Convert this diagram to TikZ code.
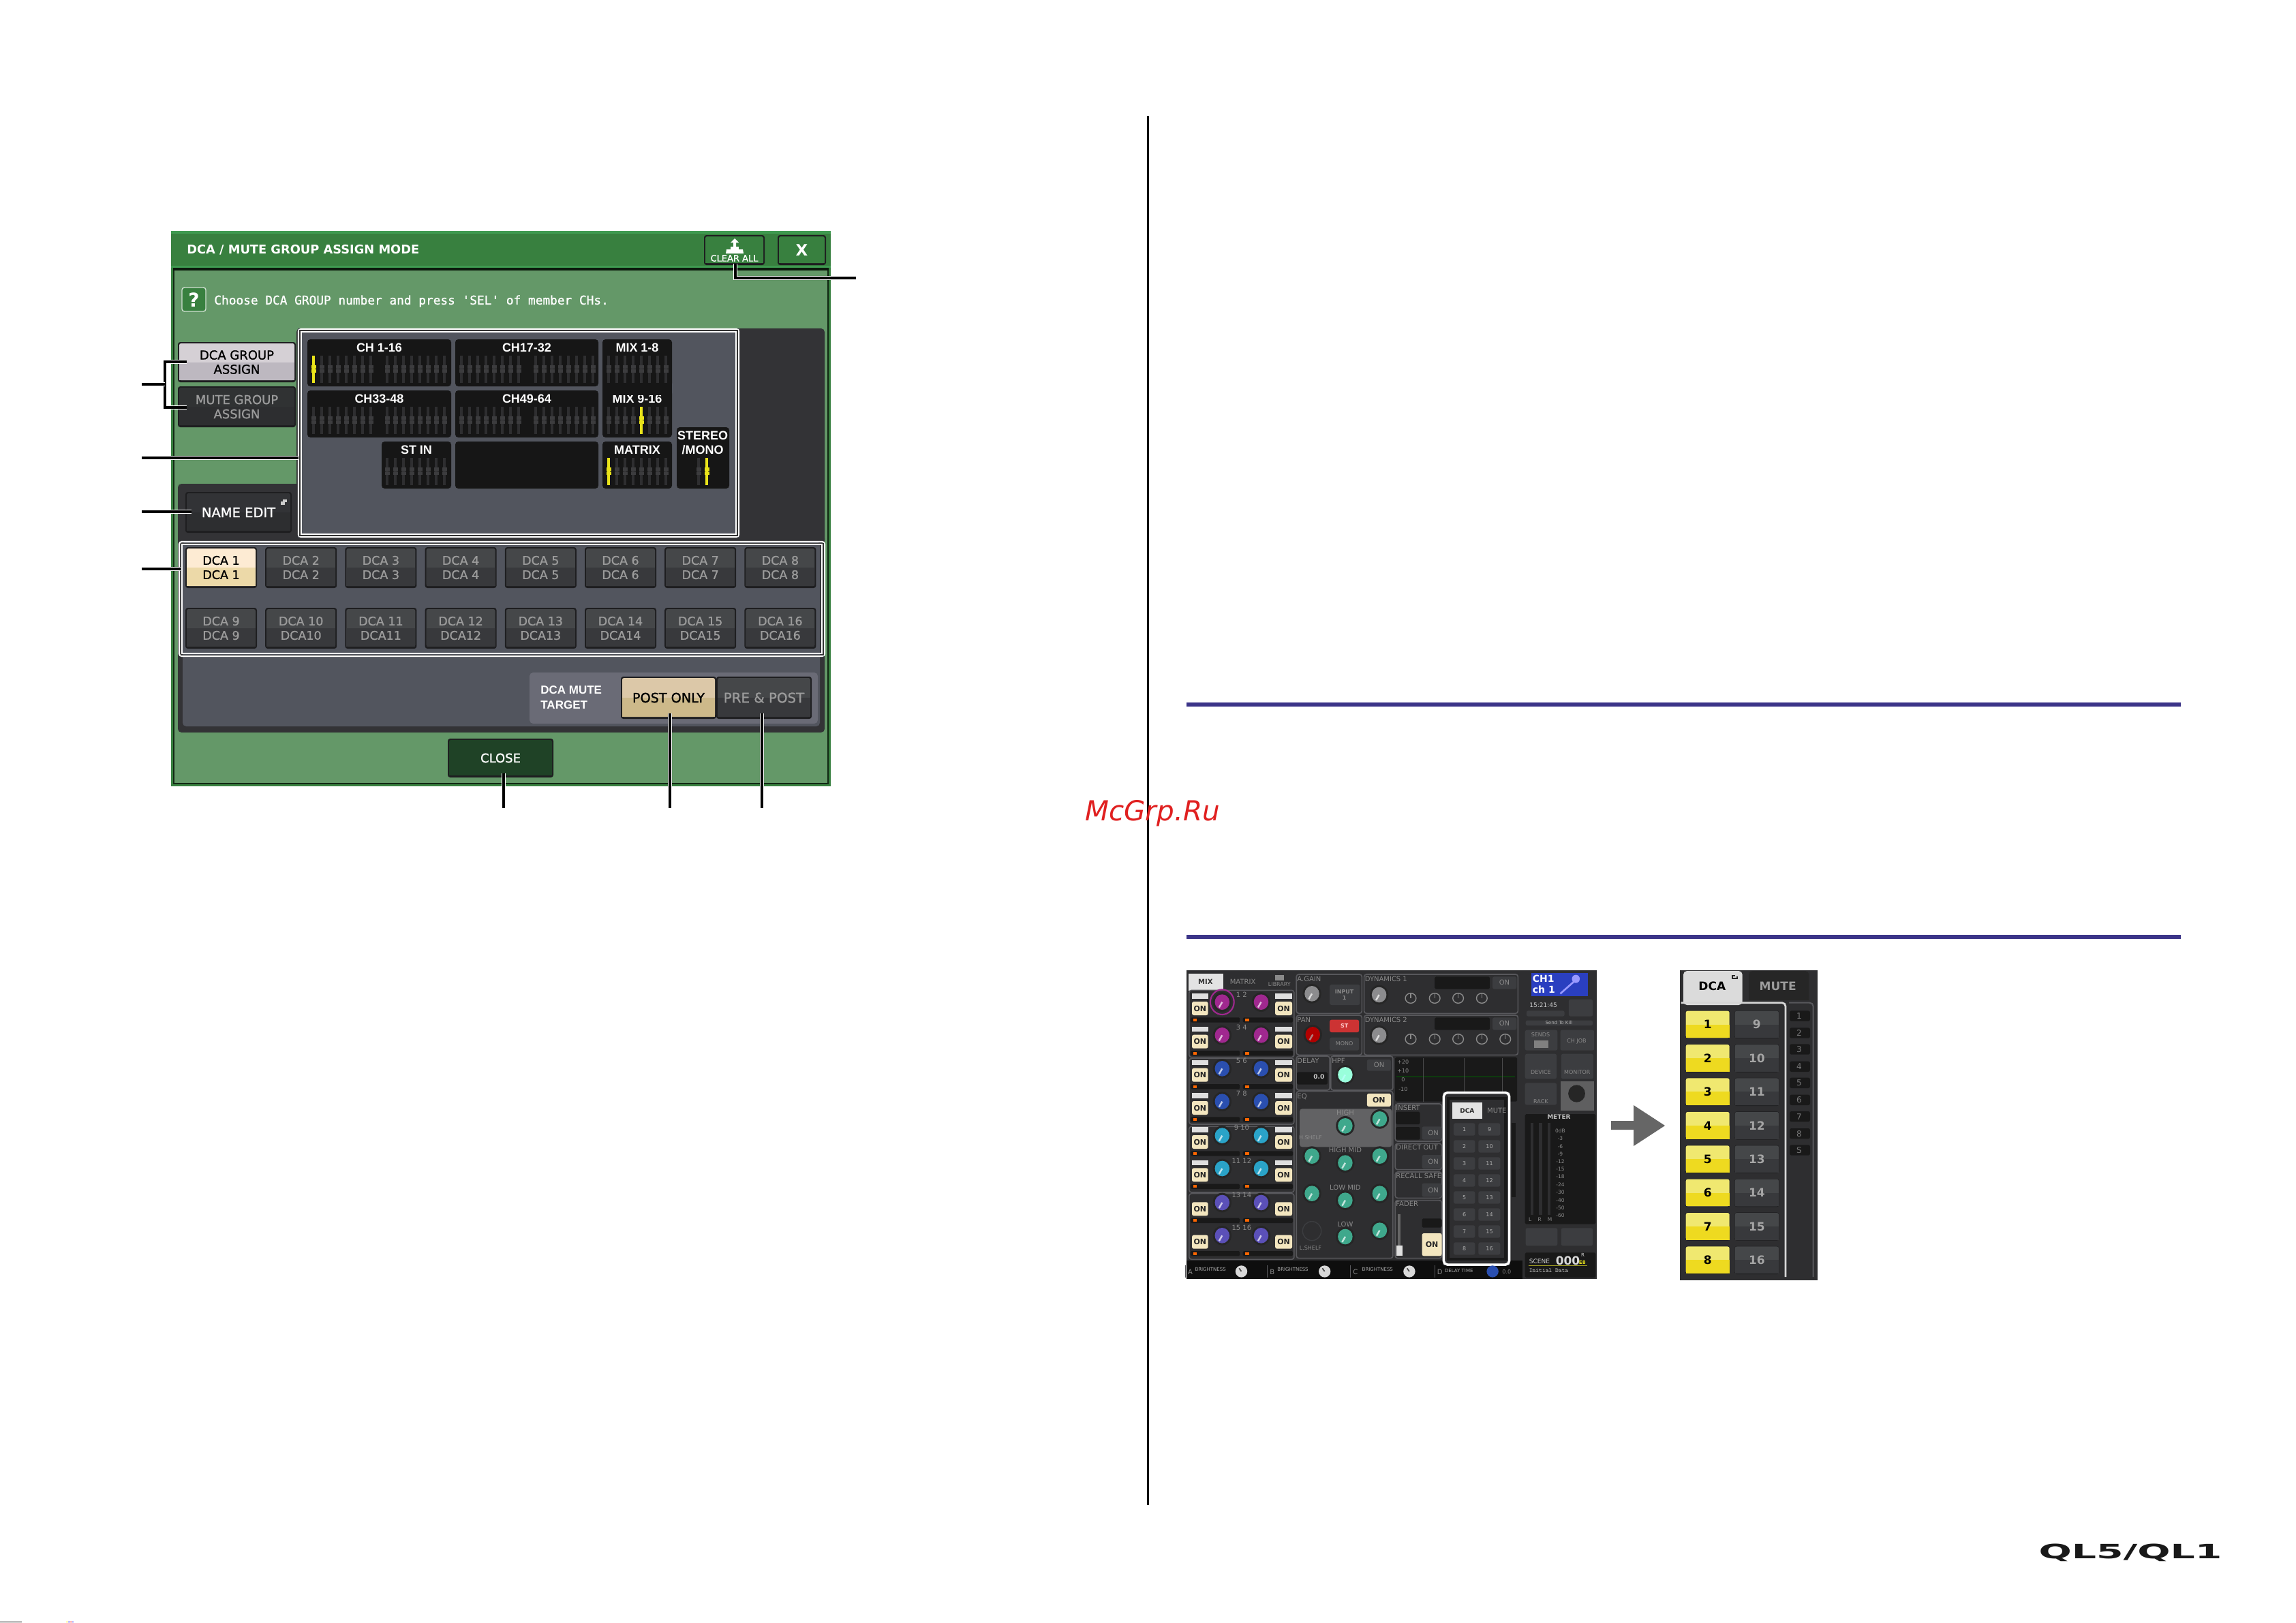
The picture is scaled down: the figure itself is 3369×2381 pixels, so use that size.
\documentclass[tikz,border=0pt]{standalone}
\usepackage{fontspec}
\setmainfont{DejaVu Sans}
\newfontfamily\uif[FakeBold=1.2]{DejaVu Sans}
\newfontfamily\libf{Liberation Sans}
\newfontfamily\monof[FakeBold=1.0]{DejaVu Sans Mono}
\usetikzlibrary{calc}
\definecolor{dlgbody}{HTML}{649868}
\definecolor{dlgtitle}{HTML}{38803F}
\definecolor{dlgstripe}{HTML}{3F9A50}
\definecolor{paneldark}{HTML}{333336}
\definecolor{panelmid}{HTML}{52555E}
\definecolor{paneltgt}{HTML}{6A6B76}
\definecolor{tilebk}{HTML}{161616}
\definecolor{btnedge}{HTML}{1E1E20}
\definecolor{btntop}{HTML}{454749}
\definecolor{btnbot}{HTML}{38393C}
\definecolor{dimtxt}{HTML}{9B9B9B}
\definecolor{onbtn}{HTML}{F3E6BF}
\definecolor{strip}{HTML}{2E2E30}
\definecolor{stripk}{HTML}{3C3C3E}
\definecolor{faderyl}{HTML}{E9E31A}
\definecolor{ssbg}{HTML}{2E2E30}
\definecolor{ssline}{HTML}{58585C}
\definecolor{sstile}{HTML}{3C3D40}
\definecolor{sstxt}{HTML}{8A8A8A}
\definecolor{rulebl}{HTML}{3B3488}
\definecolor{wmred}{HTML}{E02020}
\definecolor{arrowgr}{HTML}{666666}
\definecolor{ylwtop}{HTML}{F0E870}
\definecolor{ylwbot}{HTML}{EEDA20}
\definecolor{magk}{HTML}{A0288F}
\definecolor{bluk}{HTML}{2A4FB0}
\definecolor{cyak}{HTML}{2AA3C8}
\definecolor{purk}{HTML}{5B50B8}
\definecolor{teak}{HTML}{3FA88C}
\definecolor{grak}{HTML}{8C8C8E}
\definecolor{selgrtop}{HTML}{D5D0D5}
\definecolor{selgrbot}{HTML}{BDB8C0}
\definecolor{dcaontop}{HTML}{FDEBD3}
\definecolor{dcaonbot}{HTML}{ECD9A8}
\definecolor{posttop}{HTML}{DCC8A8}
\definecolor{postbot}{HTML}{CDB98A}
\definecolor{closebg}{HTML}{1F4226}
\definecolor{chblue}{HTML}{2A3FC0}
\newcommand\fz[2]{\fontsize{\fpeval{#1*0.569}}{\fpeval{#2*0.569}}\selectfont}
\newcounter{tn}
\newcommand\lb[4][]{\stepcounter{tn}\node[inner sep=0pt,#1] (t\arabic{tn}) at (#2,#3) {#4};}
\newcommand\uibtn[9]{%
 \pgfmathsetmacro\xa{#2+2}\pgfmathsetmacro\xb{#4-2}
 \pgfmathsetmacro\ya{#3+2}\pgfmathsetmacro\yb{#5-3}
 \pgfmathsetmacro\ym{(#3+#5)/2}\pgfmathsetmacro\xc{(#2+#4)/2}
 \fill[btnedge,rounded corners=2pt] (#2,#3) rectangle (#4,#5);
 \fill[#6,rounded corners=1.5pt] (\xa,\ya) rectangle (\xb,\yb);
 \fill[#7] (\xa,\ym) rectangle (\xb,\yb);
 \node[inner sep=0pt,align=center,#8] (#1) at (\xc,\ym) {#9};
}
\newcommand\strips[4]{\foreach \i in {1,...,#3}{%
  \pgfmathsetmacro\sx{#1+(\i-1)*12}
  \pgfmathsetmacro\sa{#2+24}\pgfmathsetmacro\sb{#2+64}
  \pgfmathsetmacro\ka{#2+38}\pgfmathsetmacro\kb{#2+42.5}
  \pgfmathsetmacro\kc{#2+44}\pgfmathsetmacro\kd{#2+48.5}
  \pgfmathsetmacro\kl{\sx-3.5}\pgfmathsetmacro\kr{\sx+3.5}
  \ifnum\i=#4\def\scl{faderyl}\def\skl{faderyl}\else\def\scl{strip}\def\skl{stripk}\fi
  \draw[\scl,line width=1.8pt] (\sx,\sa) -- (\sx,\sb);
  \fill[\skl] (\kl,\ka) rectangle (\kr,\kb);
  \fill[\skl] (\kl,\kc) rectangle (\kr,\kd);
}}
\newcommand\knob[3]{%
 \fill[black!85] (#1,#2) ellipse [x radius=33,y radius=43];
 \fill[#3] (#1,#2) ellipse [x radius=26,y radius=34];
 \draw[white!70!#3,line width=1.4pt] (#1,#2) -- ++(-11,24);
}
\newcommand\sknob[2]{\draw[sstxt,line width=.8pt] (#1,#2) ellipse [x radius=19,y radius=22]; \draw[sstxt,line width=.8pt] (#1,#2) -- ++(0,-20);}
\newcommand\ssbox[4]{\draw[ssline,line width=.9pt,rounded corners=2pt] (#1,#2) rectangle (#3,#4);}
\newcommand\sstile[4]{\fill[sstile,rounded corners=1.5pt] (#1,#2) rectangle (#3,#4);}
\newcommand\ssblack[4]{\fill[black!90,rounded corners=1pt] (#1,#2) rectangle (#3,#4);}
\newcommand\sson[4]{\fill[onbtn,rounded corners=1.5pt] (#1,#2) rectangle (#3,#4); \pgfmathsetmacro\xc{(#1+#3)/2}\pgfmathsetmacro\yc{(#2+#4)/2}\lb{\xc}{\yc}{\color{black!85}\bfseries\fz{11}{11}ON}}
\tikzset{
 leader/.style={black,line width=1.8pt,preaction={draw=white,line width=3pt}},
 tiletxt/.style={text=white,font=\libf\bfseries\fz{18}{19},align=center},
 uibright/.style={text=white,font=\uif\fz{19.5}{21}},
 uidim/.style={text=dimtxt,font=\uif\fz{17.5}{21}},
 uiblack/.style={text=black,font=\uif\fz{17.5}{21}},
 sslab/.style={text=sstxt,font=\fz{10}{11}},
 sslabsm/.style={text=sstxt!70,font=\fz{7}{8}},
}
\begin{document}
\begin{tikzpicture}[x=0.02cm,y=-0.02cm]
\useasboundingbox (0,0) rectangle (3369,2381);
\fill[white] (0,0) rectangle (3369,2381);
% page furniture
\draw[black,line width=1.7pt] (1684,170) -- (1684,2209);
\fill[rulebl] (1741,1031) rectangle (3200,1037);
\fill[rulebl] (1741,1372) rectangle (3200,1378);
\fill[black] (0,2380) rectangle (32,2381);
\fill[yellow] (97,2380) rectangle (100,2381);
\fill[blue] (100,2380) rectangle (103,2381);
\fill[red] (103,2380) rectangle (106,2381);
\fill[blue] (106,2380) rectangle (108,2381);
% ===== dialog =====
\fill[dlgtitle] (251,339) rectangle (1219,1154);
\fill[dlgbody] (254,396) rectangle (1216,1150);
\draw[black!70!dlgtitle,line width=.8pt] (255,396) -- (255,1150) -- (1215,1150) -- (1215,396);
\fill[dlgstripe] (251,339) rectangle (1219,343);
\fill[dlgstripe] (251,390) rectangle (1219,393);
\fill[black!80!dlgtitle] (254,393) rectangle (1216,397);
\lb[anchor=west,text=white,font=\bfseries\fz{17.8}{18}]{274}{367}{DCA / MUTE GROUP ASSIGN MODE}
\uibtn{clearall}{1033}{345}{1122}{389}{dlgtitle}{dlgtitle}{text=white,font=\uif\fz{13}{13},yshift=-6.8pt}{CLEAR ALL}
\fill[white] (1078,350) -- (1084,356) -- (1080,356) -- (1080,362) -- (1076,362) -- (1076,356) -- (1072,356) -- cycle;
\fill[white] (1072,362) rectangle (1084,366);
\fill[white] (1066,366) -- (1090,366) -- (1091,372) -- (1065,372) -- cycle;
\uibtn{closex}{1141}{345}{1212}{389}{dlgtitle}{dlgtitle}{text=white,font=\bfseries\fz{23}{23}}{X}
\draw[white!70!dlgbody,fill=dlgtitle,line width=.8pt,rounded corners=2pt] (267,422) rectangle (302,457);
\lb[text=white,font=\bfseries\fz{28}{28}]{284.5}{440}{?}
\lb[anchor=west,text=white,font=\monof\fz{17.8}{18}]{314}{442}{Choose DCA GROUP number and press 'SEL' of member CHs.}
% panels
\fill[paneldark,rounded corners=3pt] (435,482) rectangle (1210,810);
\fill[paneldark,rounded corners=3pt] (261,710) rectangle (440,810);
\fill[paneldark,rounded corners=3pt] (261,785) rectangle (1210,1075);
\fill[panelmid,rounded corners=3pt] (268,795) rectangle (1203,1066);
% channel selection box
\fill[panelmid] (437,482) rectangle (1085,789);
\draw[white,line width=1.2pt,rounded corners=2pt] (438,483) rectangle (1084,788);
\draw[white,line width=1.2pt] (442,487) rectangle (1080,784);
\draw[black!80,line width=.6pt] (440,485) rectangle (1082,786);
% group assign buttons
\uibtn{dcagroup}{261}{502}{434}{561}{selgrtop}{selgrbot}{text=black,font=\uif\fz{18}{21}}{DCA GROUP\\ASSIGN}
\uibtn{mutegroup}{261}{567}{434}{627}{btntop!70!black}{btnbot!80!black}{text=dimtxt,font=\uif\fz{18}{21}}{MUTE GROUP\\ASSIGN}
\uibtn{nameedit}{272}{722}{428}{782}{btnbot!90!black}{btnbot!80!black}{uibright}{NAME EDIT}
\fill[white!80!black] (415,733) rectangle (421,737); \fill[white!80!black] (412,736) rectangle (418,741);
% tiles
\foreach \tn/\xa/\ya/\xb/\yb/\txt in {ta/451/498/662/567/CH 1-16,tb/668/498/878/567/CH17-32,tc/884/498/986/567/MIX 1-8,td/451/573/662/642/CH33-48,te/668/573/878/642/CH49-64,tf/884/573/986/642/MIX 9-16,tg/560/648/662/717/ST IN,ti/884/648/986/717/MATRIX}{
 \fill[tilebk,rounded corners=2.5pt] (\xa,\ya) rectangle (\xb,\yb);
 \pgfmathsetmacro\lx{(\xa+\xb)/2}\pgfmathsetmacro\ly{\ya+12.5}
 \node[inner sep=0pt,tiletxt] (\tn) at (\lx,\ly) {\txt};
}
\fill[tilebk] (884,560) rectangle (986,580);
\fill[tilebk,rounded corners=2.5pt] (668,648) rectangle (878,717);
\fill[tilebk,rounded corners=2.5pt] (993,627) rectangle (1070,717);
\lb[tiletxt]{1031}{650}{STEREO\\[1pt]/MONO}
\strips{460}{498}{8}{1} \strips{568}{498}{8}{0}
\strips{677}{498}{8}{0} \strips{786}{498}{8}{0}
\strips{893}{498}{8}{0}
\strips{460}{573}{8}{0} \strips{568}{573}{8}{0}
\strips{677}{573}{8}{0} \strips{786}{573}{8}{0}
\strips{893}{573}{8}{5}
\strips{568}{648}{8}{0}
\strips{893}{648}{8}{1}
\strips{1025}{648}{1}{0}
\strips{1037}{648}{1}{1}
% DCA selection box
\draw[white,line width=1.2pt,rounded corners=2pt] (263,795) rectangle (1210,963);
\draw[white,line width=1.2pt] (267,799) rectangle (1206,959);
\draw[black!80,line width=.5pt] (265,797) rectangle (1208,961);
\uibtn{dcaa}{272}{803}{377}{863}{dcaontop}{dcaonbot}{uiblack}{DCA 1\\DCA 1}
\foreach \k [count=\c] in {2,...,8}{
 \pgfmathsetmacro\xx{272+\c*117.2}\pgfmathsetmacro\xy{\xx+105}
 \uibtn{dcab\k}{\xx}{803}{\xy}{863}{btntop}{btnbot}{uidim}{DCA \k\\DCA \k}
}
\foreach \k/\m [count=\c from 0] in {9/DCA 9,10/DCA10,11/DCA11,12/DCA12,13/DCA13,14/DCA14,15/DCA15,16/DCA16}{
 \pgfmathsetmacro\xx{272+\c*117.2}\pgfmathsetmacro\xy{\xx+105}
 \uibtn{dcac\k}{\xx}{892}{\xy}{952}{btntop}{btnbot}{uidim}{DCA \k\\\m}
}
% mute target
\fill[paneltgt,rounded corners=3pt] (777,987) rectangle (1200,1062);
\lb[anchor=west,text=white,font=\libf\bfseries\fz{17}{22},align=left]{793}{1024}{DCA MUTE\\TARGET}
\uibtn{postonly}{911}{993}{1051}{1055}{posttop}{postbot}{text=black,font=\uif\fz{19.2}{21}}{POST ONLY}
\uibtn{prepost}{1051}{993}{1191}{1055}{btntop}{btnbot}{text=dimtxt,font=\uif\fz{19.8}{21}}{PRE \& POST}
\uibtn{closebtn}{657}{1084}{812}{1141}{closebg}{closebg}{text=white,font=\uif\fz{18}{18}}{CLOSE}
% leaders
\coordinate (lgA) at (208,564); \coordinate (lgB) at (242,564);
\coordinate (lgC) at (242,531); \coordinate (lgD) at (274,531);
\coordinate (lgE) at (242,598); \coordinate (lgF) at (274,598);
\draw[leader] (lgD) -- (lgC) -- (lgE) -- (lgF);
\draw[leader] (lgA) -- (lgB);
\coordinate (lgG) at (208,672); \coordinate (lgH) at (438,672);
\draw[leader] (lgG) -- (lgH);
\coordinate (lgI) at (208,751); \coordinate (lgJ) at (281,751);
\draw[leader] (lgI) -- (lgJ);
\coordinate (lgK) at (208,835); \coordinate (lgL) at (265,835);
\draw[leader] (lgK) -- (lgL);
\coordinate (lgM) at (1079,387); \coordinate (lgN) at (1079,408); \coordinate (lgO) at (1256,408);
\draw[leader] (lgM) -- (lgN) -- (lgO);
\coordinate (lgP) at (739,1135); \coordinate (lgQ) at (739,1186);
\draw[leader] (lgP) -- (lgQ);
\coordinate (lgR) at (983,1047); \coordinate (lgS) at (983,1186);
\draw[leader] (lgR) -- (lgS);
\coordinate (lgT) at (1118,1047); \coordinate (lgU) at (1118,1186);
\draw[leader] (lgT) -- (lgU);
% ===== left screenshot (coordinates of the crop) =====
\begin{scope}[shift={(1720,1400)},x=0.008291cm,y=-0.006667cm]
\fill[ssbg] (50,72) rectangle (1505,1430);
\fill[black!70!ssbg] (50,1350) rectangle (1240,1430);
% top-left tabs
\fill[white!78!gray] (57,88) rectangle (180,162);
\lb[text=black!80,font=\bfseries\fz{10}{10}]{118}{122}{MIX}
\lb[sslab]{250}{122}{MATRIX}
\fill[sstxt] (365,92) rectangle (395,118);
\lb[sslab,font=\fz{8}{8}]{380}{135}{LIBRARY}
% mix strips
\foreach \ya/\yb in {160/455,460/750,760/1050,1055/1345}{\ssbox{60}{\ya}{432}{\yb}}
\foreach \ky/\kc/\nn/\pre in {212/magk/1 2/1,358/magk/3 4/1,505/bluk/5 6/1,650/bluk/7 8/1,800/cyak/9 10/1,945/cyak/11 12/1,1095/purk/13 14/0,1240/purk/15 16/0}{
 \pgfmathsetmacro\oa{\ky-2}\pgfmathsetmacro\ob{\ky+58}
 \sson{70}{\oa}{127}{\ob}\sson{365}{\oa}{425}{\ob}
 \knob{177}{\ky}{\kc}\knob{315}{\ky}{\kc}
 \pgfmathsetmacro\ny{\ky-34}\lb[sslab]{246}{\ny}{\nn}
 \pgfmathsetmacro\ba{\ky+68}\pgfmathsetmacro\bb{\ky+90}
 \ssblack{65}{\ba}{240}{\bb}\ssblack{250}{\ba}{428}{\bb}
 \fill[orange!80!red] (75,\ba+5) rectangle (88,\bb-5);
 \fill[orange!80!red] (258,\ba+5) rectangle (272,\bb-5);
 \ifnum\pre=1
 \pgfmathsetmacro\pa{\ky-37}\pgfmathsetmacro\pb{\ky-15}
 \fill[white!75!gray] (70,\pa) rectangle (127,\pb);
 \fill[white!75!gray] (365,\pa) rectangle (425,\pb);
 \fi
}
\draw[magk,line width=1.2pt] (177,212) ellipse [x radius=42,y radius=55];
% gain / pan
\ssbox{440}{90}{672}{262}\ssbox{440}{270}{672}{445}
\lb[sslab,anchor=west]{442}{110}{A.GAIN}
\knob{495}{175}{grak}
\sstile{558}{135}{665}{225}
\lb[sslab,font=\bfseries\fz{8}{9},align=center]{610}{180}{INPUT\\1}
\lb[sslab,anchor=west]{442}{290}{PAN}
\knob{498}{355}{red!70!black}
\fill[red!60!gray,rounded corners=1.5pt] (558,290) rectangle (662,345);
\lb[text=white!80!red,font=\bfseries\fz{8}{8}]{610}{317}{ST}
\sstile{558}{368}{662}{425}
\lb[sslab,font=\fz{8}{8}]{610}{396}{MONO}
% dynamics
\ssbox{680}{90}{1225}{262}\ssbox{680}{270}{1225}{445}
\lb[sslab,anchor=west]{682}{110}{DYNAMICS 1}
\lb[sslab,anchor=west]{682}{290}{DYNAMICS 2}
\knob{733}{180}{grak}\knob{733}{358}{grak}
\ssblack{930}{100}{1125}{155}\ssblack{930}{280}{1125}{335}
\sstile{1135}{100}{1220}{155}\sstile{1135}{280}{1220}{335}
\lb[sslab]{1177}{127}{ON}\lb[sslab]{1177}{307}{ON}
\foreach \kx in {845,930,1013,1097}{\sknob{\kx}{195}}
\foreach \kx in {845,930,1013,1097,1180}{\sknob{\kx}{375}}
% delay / hpf
\ssbox{440}{450}{558}{600}\ssbox{562}{450}{782}{600}
\lb[sslab,anchor=west]{442}{472}{DELAY}
\ssblack{442}{520}{550}{575}
\lb[text=white!80!black,font=\bfseries\fz{9}{9}]{520}{540}{0.0}
\lb[sslab,anchor=west]{565}{472}{HPF}
\knob{613}{532}{green!35!cyan!40!white}
\sstile{690}{465}{775}{515}\lb[sslab]{733}{490}{ON}
% graph
\ssblack{790}{455}{1222}{650}
\draw[green!40!black,line width=.5pt] (795,540) -- (1215,540);
\foreach \gx in {890,1035,1170}{\draw[black!60!white!50!ssbg,line width=.3pt] (\gx,460) -- (\gx,650);}
\foreach \gy/\gt in {475/+20,515/+10,555/0,597/-10}{\lb[sslab,font=\fz{8}{8}]{818}{\gy}{\gt}}
% EQ
\ssbox{440}{605}{782}{1340}
\lb[sslab,anchor=west]{442}{627}{EQ}
\sson{690}{615}{775}{672}
\fill[white!25!ssbg,rounded corners=2pt] (452,682) rectangle (778,850);
\foreach \kx/\ky in {613/757,735/727,495/890,613/920,735/890,495/1055,613/1085,735/1055,613/1245,735/1217}{\knob{\kx}{\ky}{teak}}
\lb[sslab]{613}{700}{HIGH}\lb[sslab]{613}{865}{HIGH MID}\lb[sslab]{613}{1028}{LOW MID}\lb[sslab]{613}{1190}{LOW}
\lb[sslab,font=\fz{8}{8}]{490}{808}{H.SHELF}\lb[sslab,font=\fz{8}{8}]{490}{1295}{L.SHELF}
\draw[sstile,line width=.8pt] (495,1220) ellipse [x radius=33,y radius=42];
% insert etc.
\foreach \ya/\yb/\tt in {660/825/INSERT,835/950/DIRECT OUT,960/1075/RECALL SAFE,1085/1340/FADER}{\ssbox{790}{\ya}{955}{\yb}\pgfmathsetmacro\ty{\ya+17}\lb[sslab,anchor=west]{792}{\ty}{\tt}}
\ssblack{792}{695}{878}{750}\ssblack{792}{762}{878}{818}
\sstile{885}{760}{955}{818}\lb[sslab]{925}{788}{ON}
\sstile{885}{885}{955}{945}\lb[sslab]{925}{915}{ON}
\sstile{885}{1010}{955}{1070}\lb[sslab]{925}{1040}{ON}
\ssblack{885}{1165}{955}{1205}
\sson{885}{1230}{955}{1330}
\fill[black!60] (798,1145) rectangle (808,1330);
\fill[white!75!gray] (795,1285) rectangle (815,1330);
% DCA meter blocks
\fill[black!90] (1202,745) rectangle (1218,1070);
% white selection
\fill[ssbg] (958,607) rectangle (1198,1372);
\draw[white,line width=2pt,rounded corners=3pt] (962,611) rectangle (1194,1368);
\draw[black!90,line width=2.4pt] (978,637) rectangle (1180,1345);
\fill[white!78!gray] (992,655) rectangle (1098,725);
\lb[text=black!85,font=\bfseries\fz{9}{9}]{1045}{692}{DCA}
\lb[sslab]{1150}{690}{MUTE}
\foreach \k [count=\c from 0] in {1,...,8}{
 \pgfmathsetmacro\ra{745+\c*75}\pgfmathsetmacro\rb{\ra+55}\pgfmathsetmacro\rc{\ra+28}
 \pgfmathtruncatemacro\kk{\k+8}
 \sstile{997}{\ra}{1073}{\rb}\sstile{1085}{\ra}{1162}{\rb}
 \lb[sslab,text=sstxt!70,font=\fz{8}{8}]{1035}{\rc}{\k}
 \lb[sslab,text=sstxt!70,font=\fz{8}{8}]{1124}{\rc}{\kk}
}
% bottom strip
\foreach \sx/\sn in {55/A,345/B,640/C,938/D}{\lb[sslab,anchor=west]{\sx}{1400}{\sn}\draw[ssline,line width=.5pt] (\sx-8,1370) -- (\sx-8,1425);}
\lb[sslabsm,anchor=west]{80}{1390}{BRIGHTNESS}\lb[sslabsm,anchor=west]{372}{1390}{BRIGHTNESS}\lb[sslabsm,anchor=west]{672}{1390}{BRIGHTNESS}\lb[sslabsm,anchor=west]{965}{1395}{DELAY TIME}
\foreach \kx in {245,540,840}{\fill[white!70!gray] (\kx,1398) ellipse [x radius=21,y radius=26]; \draw[black!70,line width=1pt] (\kx,1398) -- ++(-8,-14);}
\fill[bluk] (1135,1398) ellipse [x radius=21,y radius=26];
\lb[sslab,font=\fz{8}{8}]{1185}{1400}{0.0}
% right column
\fill[chblue] (1272,85) rectangle (1472,185);
\lb[anchor=west,text=white,font=\bfseries\fz{14}{14}]{1276}{110}{CH1}
\lb[anchor=west,text=white,font=\bfseries\fz{14}{14}]{1276}{158}{ch 1}
\draw[white!60!blue,line width=1.5pt] (1375,175) -- (1425,120);
\fill[white!60!blue] (1430,110) ellipse [x radius=14,y radius=18];
\lb[sslab,text=white!80!black,font=\fz{9}{9}]{1315}{225}{15:21:45}
\sstile{1255}{250}{1390}{275}
\sstile{1405}{200}{1490}{275}
\sstile{1252}{293}{1490}{315}
\lb[sslabsm]{1370}{304}{Send To Kill}
\sstile{1250}{335}{1365}{425}\lb[sslab,font=\fz{8}{8}]{1305}{357}{SENDS}
\fill[black!50] (1282,380) rectangle (1332,415);
\sstile{1375}{335}{1495}{425}\lb[sslab,font=\fz{8}{8}]{1433}{385}{CH JOB}
\sstile{1250}{440}{1362}{550}\lb[sslab,font=\fz{8}{8}]{1306}{522}{DEVICE}
\sstile{1378}{440}{1492}{550}\lb[sslab,font=\fz{8}{8}]{1435}{522}{MONITOR}
\sstile{1250}{568}{1362}{665}\lb[sslab,font=\fz{8}{8}]{1306}{650}{RACK}
\fill[gray!60!ssbg] (1375,560) rectangle (1495,690);
\fill[black!85] (1433,615) ellipse [x radius=30,y radius=38];
\ssblack{1250}{705}{1500}{1190}
\foreach \mx in {1270,1300,1330}{\fill[ssbg] (\mx,745) rectangle (\mx+10,1150);}
\lb[text=white!75!black,font=\bfseries\fz{9}{9}]{1370}{717}{METER}
\foreach \my/\mt in {778/0dB,813/-3,847/-6,880/-9,914/-12,947/-15,981/-18,1015/-24,1049/-30,1084/-40,1118/-50,1152/-60}{\lb[sslab,font=\fz{7.5}{8}]{1375}{\my}{\mt}}
\lb[sslab,font=\fz{7.5}{8}]{1268}{1168}{L}\lb[sslab,font=\fz{7.5}{8}]{1302}{1168}{R}\lb[sslab,font=\fz{7.5}{8}]{1338}{1168}{M}
\sstile{1252}{1207}{1365}{1285}\sstile{1378}{1207}{1490}{1285}
\ssblack{1250}{1315}{1500}{1425}
\lb[anchor=west,text=white!80!black,font=\fz{9}{9}]{1264}{1355}{SCENE}
\lb[anchor=west,text=white!85!black,font=\bfseries\fz{17}{17}]{1358}{1350}{000}
\lb[text=faderyl,font=\bfseries\fz{7}{7}]{1453}{1358}{E8}
\lb[text=white!80!black,font=\fz{7}{7}]{1455}{1327}{R}
\lb[anchor=west,text=white!80!black,font=\ttfamily\fz{9}{9}]{1264}{1393}{Initial Data}
\draw[faderyl!60!ssbg,line width=.4pt] (1262,1373) -- (1470,1373);
\end{scope}
% arrow
\fill[arrowgr] (2364,1645) -- (2397,1645) -- (2397,1622) -- (2443,1652) -- (2397,1682) -- (2397,1658) -- (2364,1658) -- cycle;
% ===== right panel =====
\begin{scope}[shift={(2420,1400)},x=0.006667cm,y=-0.006667cm]
\fill[ssbg] (135,72) rectangle (740,1437);
\fill[white!72!gray,rounded corners=3pt] (150,75) rectangle (410,225);
\fill[black!85,rounded corners=3pt] (438,75) rectangle (703,225);
\fill[ssbg] (412,205) rectangle (740,240);
\lb[text=black,font=\bfseries\fz{17}{17}]{277}{142}{DCA}
\lb[text=sstxt!85,font=\bfseries\fz{17}{17}]{566}{142}{MUTE}
\draw[black!85,line width=.8pt] (366,96) rectangle (387,108);
\fill[white!85!black] (378,88) rectangle (397,100);
\draw[white!68!gray,line width=1.6pt,rounded corners=3pt] (140,215) -- (600,215) -- (600,1422);
\draw[ssline,line width=1.2pt,rounded corners=3pt] (615,215) -- (722,215) -- (722,1422);
\foreach \k [count=\c from 0] in {1,...,8}{
 \pgfmathsetmacro\ra{252+\c*148.2}\pgfmathsetmacro\rb{\ra+118}
 \pgfmathtruncatemacro\kk{\k+8}
 \pgfmathsetmacro\ca{\ra-3}\pgfmathsetmacro\cb{\rb+3}
 \uibtn{yb\k}{159}{\ca}{355}{\cb}{ylwtop}{ylwbot}{text=black,font=\bfseries\fz{17}{17}}{\k}
 \uibtn{db\kk}{375}{\ca}{572}{\cb}{btntop}{btnbot}{text=dimtxt!90,font=\bfseries\fz{17}{17}}{\kk}
}
\foreach \ty/\tt in {250/1,325/2,397/3,473/4,545/5,620/6,693/7,768/8,841/S}{
 \pgfmathsetmacro\tb{\ty+46}\pgfmathsetmacro\tc{\ty+23}
 \fill[black!90,rounded corners=1.5pt] (618,\ty) rectangle (708,\tb);
 \lb[text=gray!90!ssbg,font=\fz{12}{12}]{660}{\tc}{\tt}
}
\end{scope}
% logo
\lb[text=black!90]{3126}{2279}{\scalebox{1.96}[1]{\bfseries\fz{29}{29}QL5/QL1}}
% watermark
\lb[anchor=base west,text=wmred,font=\itshape\fz{40.5}{41}]{1592}{1204}{McGrp.Ru}
\end{tikzpicture}
\end{document}
